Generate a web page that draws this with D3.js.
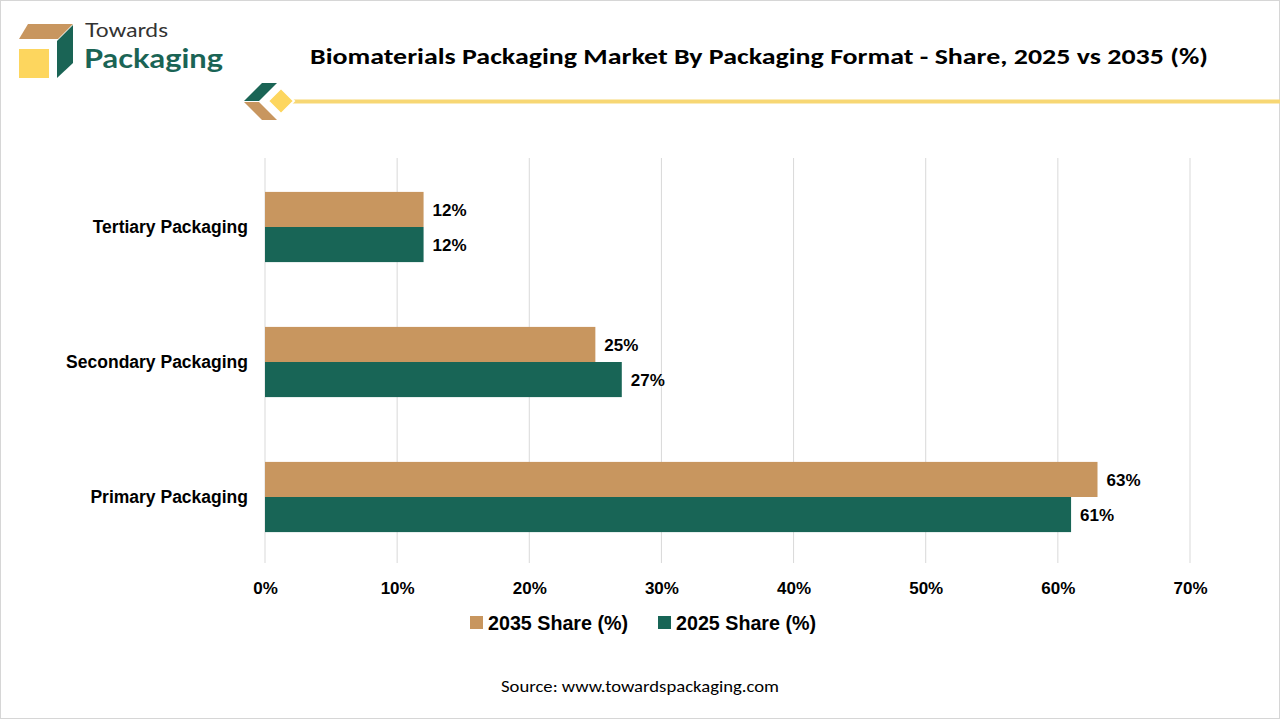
<!DOCTYPE html>
<html>
<head>
<meta charset="utf-8">
<script src="https://cdn.jsdelivr.net/npm/d3@7"></script>
<style>
  html, body { margin: 0; padding: 0; background: #fff; }
  svg { display: block; }
</style>
</head>
<body>
<svg id="chart" width="1280" height="720"></svg>
<script>
const categories = ["Tertiary Packaging", "Secondary Packaging", "Primary Packaging"];
const seriesNames = ["2035 Share (%)", "2025 Share (%)"];
const share2035 = [12, 25, 63];
const share2025 = [12, 27, 61];
const tickValues = [0, 10, 20, 30, 40, 50, 60, 70];
const titleText = "Biomaterials Packaging Market By Packaging Format - Share, 2025 vs 2035 (%)";
const sourceText = "Source: www.towardspackaging.com";

const colors = { "2035 Share (%)": "#C8965F", "2025 Share (%)": "#186556" };
const seriesValues = { "2035 Share (%)": share2035, "2025 Share (%)": share2025 };

const svg = d3.select("#chart");
const W = 1280, H = 720;
const FONT = "'Liberation Sans', Arial, sans-serif";

// frame
svg.append("rect").attr("x", 0.5).attr("y", 0.5).attr("width", W - 1).attr("height", H - 2)
  .attr("fill", "#fff").attr("stroke", "#d6d6d6").attr("stroke-width", 1);

// logo
const logo = svg.append("g");
logo.append("polygon").attr("points", "28,24 73,24 58,39 19,39").attr("fill", "#C8965F");
logo.append("polygon").attr("points", "73,25 73,63 57,78 57,41").attr("fill", "#1A6455");
logo.append("rect").attr("x", 19).attr("y", 49).attr("width", 30).attr("height", 29).attr("fill", "#FDD65E");
logo.append("text").attr("x", 85).attr("y", 36.5).text("Towards")
  .attr("font-family", "Lato, 'Noto Sans', sans-serif").attr("font-size", 19).attr("fill", "#333")
  .attr("textLength", 83).attr("lengthAdjust", "spacingAndGlyphs");
logo.append("text").attr("x", 84).attr("y", 67.5).text("Packaging")
  .attr("font-family", "Lato, 'Noto Sans', sans-serif").attr("font-weight", "bold").attr("font-size", 27).attr("fill", "#1A6455")
  .attr("textLength", 139).attr("lengthAdjust", "spacingAndGlyphs");

// title
svg.append("text").attr("x", 759).attr("y", 64).attr("text-anchor", "middle")
  .attr("font-family", "Carlito, 'Open Sans', sans-serif").attr("font-weight", "bold")
  .attr("font-size", 23).attr("fill", "#000").text(titleText)
  .attr("textLength", 898).attr("lengthAdjust", "spacingAndGlyphs");

// decoration line
svg.append("line").attr("x1", 288).attr("x2", 1280).attr("y1", 101.5).attr("y2", 101.5)
  .attr("stroke", "#F7D774").attr("stroke-width", 4);
svg.append("polygon").attr("points", "262,83 277,83 259,101 244,101").attr("fill", "#1A6455");
svg.append("polygon").attr("points", "244,102 259,102 277,120 262,120").attr("fill", "#C8965F");
svg.append("polygon").attr("points", "281,88 294,101 281,114 268,101").attr("fill", "#FDD65E")
  .attr("stroke", "#fff").attr("stroke-width", 2);

// scales
const x = d3.scaleLinear().domain([0, 70]).range([265, 1190]);
const y = d3.scaleBand().domain(categories).range([159.5, 564.5]).paddingInner(0.48).paddingOuter(0.24);
const ySub = d3.scaleBand().domain(seriesNames).range([0, y.bandwidth()]);

// gridlines
svg.append("g").selectAll("line").data(tickValues).join("line")
  .attr("x1", d => x(d)).attr("x2", d => x(d))
  .attr("y1", 158).attr("y2", 563)
  .attr("stroke", "#d9d9d9").attr("stroke-width", 1);

// x axis
const xAxis = svg.append("g").attr("transform", "translate(0,577)")
  .call(d3.axisBottom(x).tickValues(tickValues).tickFormat(d => d + "%").tickSize(0).tickPadding(5));
xAxis.select(".domain").remove();
xAxis.selectAll("text").attr("font-family", FONT).attr("font-weight", "bold")
  .attr("font-size", 17).attr("fill", "#000");

// y axis labels
const yAxis = svg.append("g").attr("transform", "translate(248,0)")
  .call(d3.axisLeft(y).tickSize(0).tickPadding(0));
yAxis.select(".domain").remove();
yAxis.selectAll("text").attr("font-family", FONT).attr("font-weight", "bold")
  .attr("font-size", 17.5).attr("fill", "#000");

// bars
const rows = categories.map((c, i) => ({ cat: c, vals: seriesNames.map(s => ({ s, v: seriesValues[s][i] })) }));
const groups = svg.append("g").selectAll("g").data(rows).join("g")
  .attr("transform", d => `translate(0,${y(d.cat)})`);
groups.selectAll("rect").data(d => d.vals).join("rect")
  .attr("x", x(0)).attr("y", d => ySub(d.s))
  .attr("width", d => x(d.v) - x(0)).attr("height", ySub.bandwidth())
  .attr("fill", d => colors[d.s]);
groups.selectAll("text").data(d => d.vals).join("text")
  .attr("x", d => x(d.v) + 9).attr("y", d => ySub(d.s) + ySub.bandwidth() / 2)
  .attr("dy", "0.36em")
  .attr("font-family", FONT).attr("font-weight", "bold").attr("font-size", 17).attr("fill", "#000")
  .text(d => d.v + "%");

// legend
const legendX = [470, 658];
const legend = svg.append("g").selectAll("g").data(seriesNames).join("g")
  .attr("transform", (d, i) => `translate(${legendX[i]},616)`);
legend.append("rect").attr("width", 13).attr("height", 13).attr("fill", d => colors[d]);
legend.append("text").attr("x", 18).attr("y", 6.5).attr("dy", "0.36em")
  .attr("font-family", FONT).attr("font-weight", "bold").attr("font-size", 19.7).attr("fill", "#000")
  .text(d => d);

// source
svg.append("text").attr("x", 640).attr("y", 692).attr("text-anchor", "middle")
  .attr("font-family", "Carlito, 'Open Sans', sans-serif").attr("font-size", 17).attr("fill", "#000")
  .text(sourceText)
  .attr("textLength", 278).attr("lengthAdjust", "spacingAndGlyphs");
</script>
</body>
</html>
